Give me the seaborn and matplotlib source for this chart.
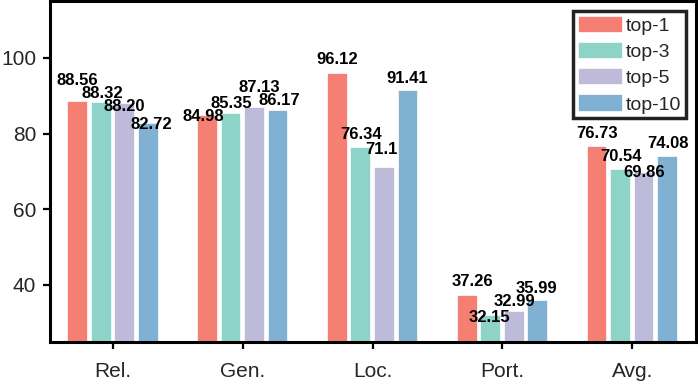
import matplotlib
matplotlib.use("Agg")
import matplotlib.pyplot as plt
import pandas as pd
import seaborn as sns

categories = ["Rel.", "Gen.", "Loc.", "Port.", "Avg."]
series = ["top-1", "top-3", "top-5", "top-10"]
top1 = [88.56, 84.98, 96.12, 37.26, 76.73]
top3 = [88.32, 85.35, 76.34, 32.15, 70.54]
top5 = [88.20, 87.13, 71.1, 32.99, 69.86]
top10 = [82.72, 86.17, 91.41, 35.99, 74.08]
values = [top1, top3, top5, top10]
# bar labels as printed on the chart
texts = [["88.56", "84.98", "96.12", "37.26", "76.73"],
         ["88.32", "85.35", "76.34", "32.15", "70.54"],
         ["88.20", "87.13", "71.1", "32.99", "69.86"],
         ["82.72", "86.17", "91.41", "35.99", "74.08"]]

colors = ["#F67F73", "#8DD3C7", "#BEBADA", "#80B1D3"]

# label placement tweaks (dy in data units, dx in pixels), hand-tuned
dy = [[5.4, -0.5, 3.4, 3.7, 3.4],
      [2.2, 2.5, 3.4, -0.7, 3.4],
      [-1.1, 5.1, 4.7, 2.6, -0.2],
      [-0.3, 2.5, 3.2, 3.1, 3.3]]
dx = [[0, -4, 0, 5, 0],
      [1, 0, 0, -1, 0],
      [0, 5, -3, 0, 0],
      [3, 1, -1, -1, 0]]

rows = []
for s, vals in zip(series, values):
    for c, v in zip(categories, vals):
        rows.append({"cat": c, "val": v, "k": s})
df = pd.DataFrame(rows)

sns.set_theme(style="ticks")
plt.rcParams["font.family"] = ["Liberation Sans", "DejaVu Sans"]

fig, ax = plt.subplots(figsize=(6.98, 3.83), dpi=100)
sns.barplot(data=df, x="cat", y="val", hue="k", palette=colors, saturation=1,
            width=0.725, gap=0.12, edgecolor="white", linewidth=1.2, ax=ax)

for i, cont in enumerate(ax.containers):
    for j, p in enumerate(cont.patches):
        x = p.get_x() + p.get_width() / 2
        h = p.get_height()
        ax.annotate(texts[i][j], (x, h + dy[i][j]), xytext=(dx[i][j] * 0.72, 0),
                    textcoords="offset points", ha="center", va="center",
                    fontsize=12, fontweight="bold", color="black")

ax.set_ylim(25, 115)
ax.set_xlim(-0.485, 4.49)
ax.set_yticks([40, 60, 80, 100])
ax.set_xlabel("")
ax.set_ylabel("")
ax.tick_params(axis="both", labelsize=15, length=5, width=1.6, color="black")
ax.tick_params(axis="x", pad=10)
ax.tick_params(axis="y", pad=5)
for sp in ax.spines.values():
    sp.set_visible(True)
    sp.set_linewidth(2.2)
    sp.set_color("black")

leg = ax.legend(loc="upper right", fontsize=14, handlelength=2.3, handleheight=1.0,
                handletextpad=0.15, labelspacing=0.35, borderpad=0.25,
                borderaxespad=0.5, fancybox=False, framealpha=1)
leg.get_frame().set_edgecolor("#222222")
leg.get_frame().set_linewidth(2.5)

fig.subplots_adjust(left=0.0716, right=0.997, top=0.997, bottom=0.108)
fig.savefig("out.png", dpi=100)
